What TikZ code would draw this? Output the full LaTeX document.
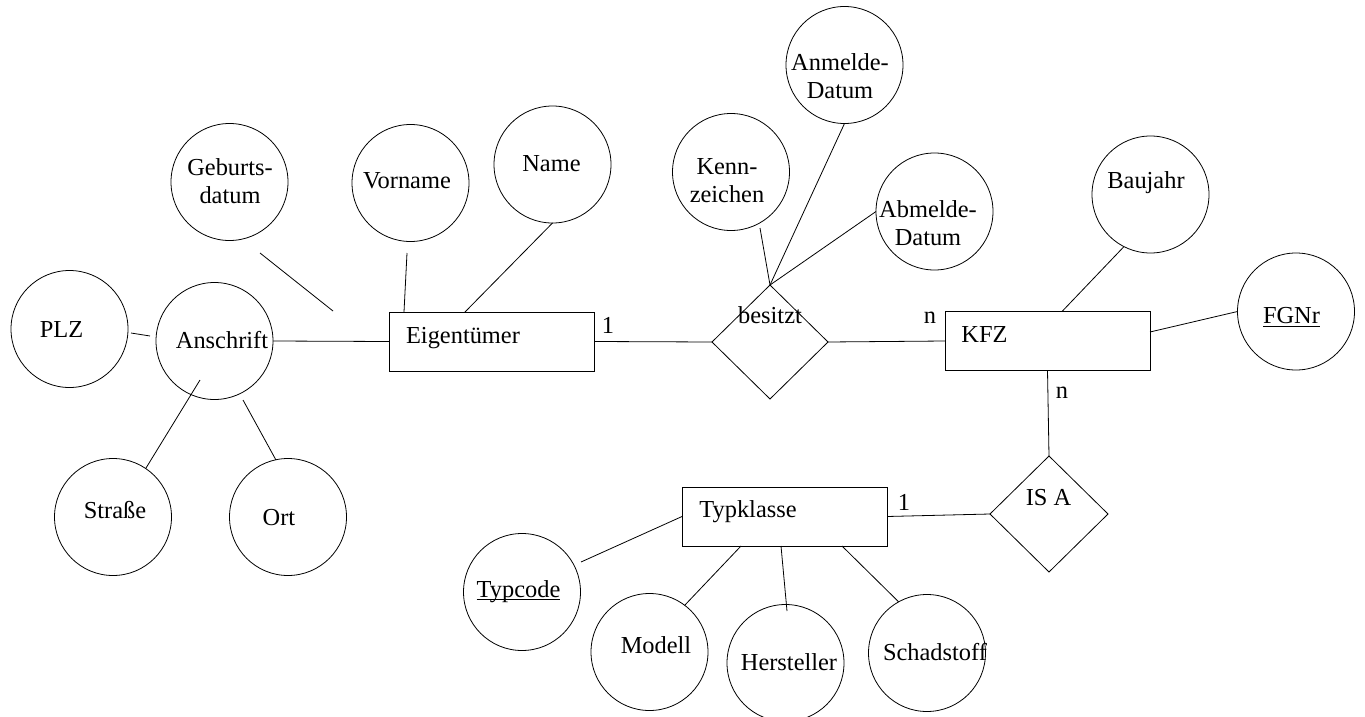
\documentclass[tikz,border=0pt]{standalone}
\usepackage{fontspec}
\setmainfont{Liberation Serif}
\usetikzlibrary{shapes.geometric}

\begin{document}
\begin{tikzpicture}[x=0.5pt, y=-0.5pt]
\tikzset{ line width=0.75pt, inner sep=0pt, outer sep=0pt,
  attr/.style={draw, circle, minimum size=58.5pt},
  entity/.style={draw, rectangle, minimum width=102.5pt, minimum height=29.5pt},
  rel/.style={draw, diamond, minimum width=58pt, minimum height=57pt},
  txt/.style={font=\fontsize{12.2}{14}\selectfont, anchor=base},
  txtb/.style={font=\fontsize{12.2}{14}\selectfont, align=center},
}

\useasboundingbox (0,0) rectangle (1365,717);
%\draw [lightgray, dashed](0,0) rectangle (1365,717);

% entities
\node [entity] (Eig) at (491.5,341.5) {};
\node [entity] (KFZ) at (1047.5,341) {};
\node [entity] (Typ) at (784.5,516.5) {};

% relationships
\node [rel] (Bes) at (770,342) {};
\node [rel, minimum width=59pt, minimum height=58pt] (ISA) at (1049,514) {};

% attributes
\node [attr] (Geb) at (229.5,182) {};
\node [attr] (PLZ) at (69.5,329) {};
\node [attr] (Ans) at (214.5,341) {};
\node [attr] (Str) at (113,517) {};
\node [attr] (Ort) at (288,517) {};
\node [attr] (Vor) at (410.5,183) {};
\node [attr] (Nam) at (552.5,164.5) {};
\node [attr] (Ken) at (731,172) {};
\node [attr] (Anm) at (844.5,65) {};
\node [attr] (Abm) at (934.5,211.5) {};
\node [attr] (Bau) at (1150.5,194.5) {};
\node [attr] (FGN) at (1296,311.5) {};
\node [attr] (Tco) at (522,592) {};
\node [attr] (Mod) at (649.5,652) {};
\node [attr] (Her) at (785.5,663) {};
\node [attr] (Sch) at (927,653) {};

% loose line ends
\coordinate (GebA) at (260,253);
\coordinate (GebB) at (333,311);
\coordinate (PlzA) at (131,333);
\coordinate (PlzB) at (150,336);
\coordinate (AnsA) at (200,380);
\coordinate (AnsB) at (243,400);
\coordinate (VorA) at (407,253);
\coordinate (KenA) at (760,228);
\coordinate (TcoA) at (581,562);
\coordinate (HerA) at (787,611);

\draw (GebA) -- (GebB);
\draw (PlzA) -- (PlzB);
\draw (Ans.east) -- (Eig.west);
\draw (AnsA) -- (Str.56);
\draw (AnsB) -- (Ort.102);
\draw (VorA) -- (404,0 |- Eig.north);
\draw (Nam.south) -- (465,0 |- Eig.north);

\draw (Eig.east) -- (Bes.west);
\draw (KenA) -- (Bes.north);
\draw (Anm.south) -- (Bes.north);
\draw (Abm.west) -- (Bes.north);
\draw (Bes.east) -- (KFZ.west);

\draw (Bau.-117) -- (1062,0 |- KFZ.north);
\draw (KFZ.east |- 0,332) -- (FGN.west);
\draw (KFZ.south) -- (ISA.north);
\draw (Typ.east) -- (ISA.west);

\draw (TcoA) -- (Typ.west);
\draw (Mod.53) -- (741,0 |- Typ.south);
\draw (781,0 |- Typ.south) -- (HerA);
\draw (842,0 |- Typ.south) -- (Sch.119);

% texts
\node [txtb] (tGeb) at (230,180.7) {Geburts-\\datum};
\node [txt] (tPLZ) at (61.5,337) {PLZ};
\node [txt] (tAns) at (222,348) {Anschrift};
\node [txt] (tStr) at (115,518) {Straße};
\node [txt] (tOrt) at (279,525) {Ort};
\node [txt] (tVor) at (407,188) {Vorname};
\node [txt] (tNam) at (551.5,171) {Name};
\node [txt] (tEig) at (463,343) {Eigentümer};
\node [txt] (tEig1) at (608,333) {1};

\node [txtb] (tKen) at (727,180.7) {Kenn-\\zeichen};
\node [txtb] (tAnm) at (840,75.7) {Anmelde-\\Datum};
\node [txtb] (tAbm) at (928,223.2) {Abmelde-\\Datum};
\node [txt] (tBes) at (770,323) {besitzt};
\node [txt] (tKFZn) at (930,323) {n};

\node [txt] (tKFZ) at (984.5,342) {KFZ};
\node [txt] (tBau) at (1146,188) {Baujahr};
\node [txt] (tFGN) at (1291.5,323) {\underline{FGNr}};
\node [txt] (tISAn) at (1062,398) {n};
\node [txt] (tISA) at (1048.5,505) {IS A};
\node [txt] (tTyp1) at (904,510) {1};

\node [txt] (tTyp) at (748,517) {Typklasse};
\node [txt] (tTco) at (518.5,597) {\underline{\smash{Typcode}}};
\node [txt] (tMod) at (656,653) {Modell};
\node [txt] (tHer) at (789,670) {Hersteller};
\node [txt] (tSch) at (935,660) {Schadstoff};

\end{tikzpicture}
\end{document}
